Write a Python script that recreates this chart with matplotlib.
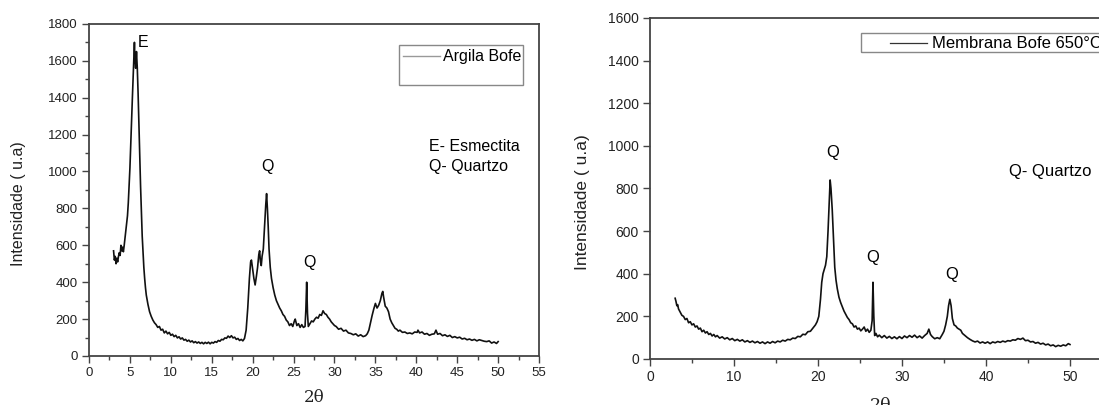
import numpy as np
import matplotlib.pyplot as plt
from matplotlib.patches import Rectangle
from matplotlib.ticker import MultipleLocator

plt.rcParams['font.family'] = ['Liberation Sans', 'DejaVu Sans']

# Step 0: values - Argila Bofe (left)
x_argila = [3.0, 3.1, 3.2, 3.3, 3.4, 3.5, 3.6, 3.7, 3.8, 3.9, 4.0, 4.1, 4.2, 4.3, 4.4, 4.5, 4.6, 4.7, 4.8, 4.9,
            5.0, 5.1, 5.2, 5.3, 5.4, 5.5, 5.55, 5.6, 5.7, 5.8, 5.9, 6.0, 6.1, 6.2, 6.3, 6.4, 6.5, 6.6, 6.7, 6.8,
            6.9, 7.0, 7.2, 7.4, 7.6, 7.8, 8.0, 8.2, 8.4, 8.6, 8.8, 9.0, 9.2, 9.4, 9.6, 9.8, 10.0, 10.2, 10.4, 10.6,
            10.8, 11.0, 11.2, 11.4, 11.6, 11.8, 12.0, 12.2, 12.4, 12.6, 12.8, 13.0, 13.2, 13.4, 13.6, 13.8, 14.0,
            14.2, 14.4, 14.6, 14.8, 15.0, 15.2, 15.4, 15.6, 15.8, 16.0, 16.2, 16.4, 16.6, 16.8, 17.0, 17.2, 17.4,
            17.6, 17.8, 18.0, 18.2, 18.4, 18.6, 18.8, 19.0, 19.2, 19.4, 19.6, 19.75, 19.85, 20.0, 20.15, 20.3,
            20.45, 20.6, 20.75, 20.85, 20.95, 21.05, 21.15, 21.3, 21.45, 21.6, 21.7, 21.8, 21.9, 22.0, 22.15, 22.3,
            22.5, 22.7, 22.9, 23.1, 23.3, 23.5, 23.7, 23.9, 24.1, 24.3, 24.5, 24.7, 24.9, 25.1, 25.2, 25.4, 25.6,
            25.8, 26.0, 26.2, 26.4, 26.5, 26.6, 26.7, 26.8, 27.0, 27.2, 27.4, 27.6, 27.8, 28.0, 28.2, 28.4, 28.6,
            28.8, 29.0, 29.2, 29.4, 29.6, 29.8, 30.0, 30.2, 30.5, 30.8, 31.1, 31.4, 31.7, 32.0, 32.3, 32.6, 32.9,
            33.2, 33.5, 33.8, 34.0, 34.2, 34.4, 34.6, 34.8, 35.0, 35.2, 35.4, 35.6, 35.8, 35.9, 36.0, 36.2, 36.4,
            36.6, 36.8, 37.0, 37.2, 37.4, 37.6, 37.8, 38.0, 38.3, 38.6, 38.9, 39.2, 39.5, 39.8, 40.1, 40.2, 40.4,
            40.7, 41.0, 41.3, 41.6, 41.9, 42.2, 42.4, 42.6, 42.9, 43.2, 43.5, 43.8, 44.1, 44.4, 44.7, 45.0, 45.3,
            45.6, 45.9, 46.2, 46.5, 46.8, 47.1, 47.4, 47.7, 48.0, 48.3, 48.6, 48.9, 49.2, 49.5, 49.8, 50.0]
y_argila = [570, 520, 540, 500, 530, 510, 540, 560, 545, 600, 570, 590, 565, 600, 640, 680, 720, 760, 830, 920,
            1020, 1150, 1280, 1400, 1520, 1640, 1700, 1620, 1560, 1650, 1560, 1420, 1250, 1080, 920, 780, 650, 560, 480, 420,
            370, 330, 280, 240, 215, 195, 180, 170, 155, 160, 140, 145, 125, 135, 120, 128, 112, 118, 105, 112,
            98, 104, 92, 98, 86, 90, 80, 86, 76, 82, 72, 78, 70, 76, 68, 74, 66,
            74, 68, 75, 66, 74, 70, 78, 74, 84, 80, 90, 88, 98, 96, 108, 100, 110,
            98, 102, 90, 95, 84, 90, 82, 95, 140, 260, 420, 510, 520, 470, 420, 385,
            430, 480, 550, 570, 510, 490, 540, 580, 700, 820, 880, 800, 700, 580, 480, 420,
            370, 330, 300, 280, 260, 245, 225, 215, 195, 185, 165, 175, 160, 190, 200, 165, 175,
            155, 170, 155, 160, 250, 400, 230, 160, 175, 190, 185, 200, 210, 205, 225, 220, 245,
            230, 225, 210, 200, 185, 175, 165, 160, 145, 150, 135, 140, 125, 122, 115, 120, 108,
            115, 105, 110, 120, 140, 180, 220, 255, 285, 260, 275, 300, 340, 350, 320, 270, 260,
            240, 200, 180, 165, 150, 145, 135, 140, 128, 130, 122, 125, 120, 130, 128, 140, 125,
            130, 118, 122, 112, 118, 120, 140, 118, 122, 110, 115, 106, 112, 100, 105, 98, 102,
            92, 96, 88, 92, 85, 90, 82, 88, 84, 80, 78, 82, 70, 76, 68, 78]

# Step 1: values - Membrana Bofe 650°C (right)
x_membrana = [3.0, 3.1, 3.2, 3.3, 3.4, 3.6, 3.8, 4.0, 4.2, 4.4, 4.6, 4.8, 5.0, 5.2, 5.4, 5.6, 5.8, 6.0, 6.2, 6.4,
              6.6, 6.8, 7.0, 7.2, 7.4, 7.6, 7.8, 8.0, 8.3, 8.6, 8.9, 9.2, 9.5, 9.8, 10.1, 10.4, 10.7, 11.0, 11.3,
              11.6, 11.9, 12.2, 12.5, 12.8, 13.1, 13.4, 13.7, 14.0, 14.3, 14.6, 14.9, 15.2, 15.5, 15.8, 16.1, 16.4,
              16.7, 17.0, 17.3, 17.6, 17.9, 18.2, 18.5, 18.8, 19.1, 19.4, 19.7, 19.9, 20.1, 20.3, 20.45, 20.6,
              20.75, 20.9, 21.05, 21.2, 21.35, 21.45, 21.55, 21.7, 21.85, 22.0, 22.15, 22.3, 22.5, 22.7, 22.9,
              23.1, 23.3, 23.5, 23.7, 23.9, 24.1, 24.3, 24.5, 24.7, 24.9, 25.1, 25.3, 25.5, 25.7, 25.9, 26.1, 26.3,
              26.45, 26.55, 26.65, 26.75, 26.9, 27.1, 27.3, 27.6, 27.9, 28.2, 28.5, 28.8, 29.1, 29.4, 29.7, 30.0,
              30.3, 30.6, 30.9, 31.2, 31.5, 31.8, 32.1, 32.4, 32.7, 33.0, 33.2, 33.4, 33.6, 33.9, 34.2, 34.5, 34.8,
              35.0, 35.2, 35.4, 35.55, 35.7, 35.85, 36.0, 36.2, 36.4, 36.6, 36.8, 37.0, 37.2, 37.5, 37.8, 38.1,
              38.4, 38.7, 39.0, 39.3, 39.6, 39.9, 40.2, 40.5, 40.8, 41.1, 41.4, 41.7, 42.0, 42.3, 42.6, 42.9, 43.2,
              43.5, 43.8, 44.1, 44.4, 44.7, 45.0, 45.3, 45.6, 45.9, 46.2, 46.5, 46.8, 47.1, 47.4, 47.7, 48.0, 48.3,
              48.6, 48.9, 49.2, 49.5, 49.8, 50.0]
y_membrana = [285, 270, 250, 255, 235, 220, 205, 200, 185, 190, 170, 175, 160, 165, 150, 155, 140, 145, 128, 135,
              122, 128, 115, 120, 108, 115, 104, 110, 98, 104, 94, 100, 90, 96, 86, 92, 84, 90, 80,
              86, 78, 84, 76, 82, 74, 80, 72, 80, 74, 82, 76, 84, 80, 88, 84, 92,
              90, 98, 96, 106, 104, 116, 114, 128, 130, 145, 160, 175, 200, 280, 360, 400,
              420, 440, 480, 600, 740, 840, 800, 700, 560, 430, 370, 330, 290, 265, 245,
              225, 210, 195, 185, 170, 165, 150, 155, 140, 145, 132, 140, 150, 130, 140, 125, 135,
              180, 360, 200, 110, 120, 104, 112, 100, 110, 98, 106, 96, 104, 95, 105, 96,
              108, 100, 110, 102, 112, 100, 108, 98, 110, 120, 140, 115, 105, 95, 100, 95, 115,
              130, 160, 200, 250, 280, 250, 190, 160, 155, 145, 140, 135, 120, 110, 100, 92,
              85, 80, 84, 75, 80, 74, 80, 72, 80, 76, 82, 78, 84, 80, 86, 84, 90,
              88, 96, 92, 98, 86, 88, 80, 82, 74, 78, 70, 74, 66, 70, 62, 66, 58,
              64, 60, 66, 62, 72, 68]

# Step 2: figure with the two panels (right one runs past the image edge)
fig = plt.figure(figsize=(10.99, 4.05), dpi=100)
ax1 = fig.add_axes([0.081, 0.121, 0.4095, 0.820])
ax2 = fig.add_axes([0.5914, 0.1136, 0.4204, 0.842])

spine_col = '#444444'
for ax in (ax1, ax2):
    for s in ax.spines.values():
        s.set_color(spine_col)
        s.set_linewidth(1.3)
    ax.tick_params(which='both', direction='out', color=spine_col, width=1.0, top=False, right=False)
    ax.tick_params(which='major', length=5, pad=3)
    ax.tick_params(which='minor', length=3)

# Step 3: left panel
ax1.plot(x_argila, y_argila, color='#111111', lw=1.2)
ax1.set_xlim(0, 55)
ax1.set_ylim(0, 1800)
ax1.xaxis.set_major_locator(MultipleLocator(5))
ax1.xaxis.set_minor_locator(MultipleLocator(2.5))
ax1.yaxis.set_major_locator(MultipleLocator(200))
ax1.yaxis.set_minor_locator(MultipleLocator(100))
ax1.tick_params(labelsize=9.5, labelcolor='#222222')
ax1.set_ylabel('Intensidade ( u.a)', fontsize=11.5, color='#222222')
ax1.yaxis.set_label_coords(-0.14, 0.46)
ax1.set_xlabel('2θ', fontsize=12, family='DejaVu Serif', color='#222222')
ax1.xaxis.set_label_coords(0.5, -0.1)

ax1.text(6.0, 1700, 'E', fontsize=11.5, va='center', ha='left')
ax1.text(21.8, 1025, 'Q', fontsize=11.5, va='center', ha='center')
ax1.text(26.95, 505, 'Q', fontsize=11.5, va='center', ha='center')
ax1.text(41.5, 1134, 'E- Esmectita', fontsize=11.5, va='center', ha='left')
ax1.text(41.5, 1025, 'Q- Quartzo', fontsize=11.5, va='center', ha='left')

# legend drawn like the Origin box
ax1.add_patch(Rectangle((0.688, 0.817), 0.277, 0.118, transform=ax1.transAxes,
                        fill=False, edgecolor='#888888', lw=1.0))
ax1.plot([0.698, 0.780], [0.902, 0.902], transform=ax1.transAxes, color='#999999', lw=1.0)
ax1.text(0.787, 0.902, 'Argila Bofe', transform=ax1.transAxes, fontsize=11.5, va='center', ha='left')

# Step 4: right panel
ax2.plot(x_membrana, y_membrana, color='#111111', lw=1.2)
ax2.set_xlim(0, 55)
ax2.set_ylim(0, 1600)
ax2.xaxis.set_major_locator(MultipleLocator(10))
ax2.xaxis.set_minor_locator(MultipleLocator(5))
ax2.yaxis.set_major_locator(MultipleLocator(200))
ax2.tick_params(labelsize=10, labelcolor='#222222')
ax2.set_ylabel('Intensidade ( u.a)', fontsize=12.5, color='#222222')
ax2.yaxis.set_label_coords(-0.13, 0.46)
ax2.set_xlabel('2θ', fontsize=12.5, family='DejaVu Serif', color='#222222')
ax2.xaxis.set_label_coords(0.5, -0.11)

ax2.text(21.7, 970, 'Q', fontsize=12, va='center', ha='center')
ax2.text(26.5, 478, 'Q', fontsize=12, va='center', ha='center')
ax2.text(35.9, 395, 'Q', fontsize=12, va='center', ha='center')
ax2.text(42.8, 881, 'Q- Quartzo', fontsize=12, va='center', ha='left')

ax2.add_patch(Rectangle((0.456, 0.899), 0.6, 0.057, transform=ax2.transAxes,
                        fill=False, edgecolor='#888888', lw=1.0, clip_on=False))
ax2.plot([0.52, 0.60], [0.926, 0.926], transform=ax2.transAxes, color='#333333', lw=0.9)
ax2.text(0.611, 0.926, 'Membrana Bofe 650°C', transform=ax2.transAxes, fontsize=12, va='center', ha='left')

fig.savefig('out.png', dpi=100)
